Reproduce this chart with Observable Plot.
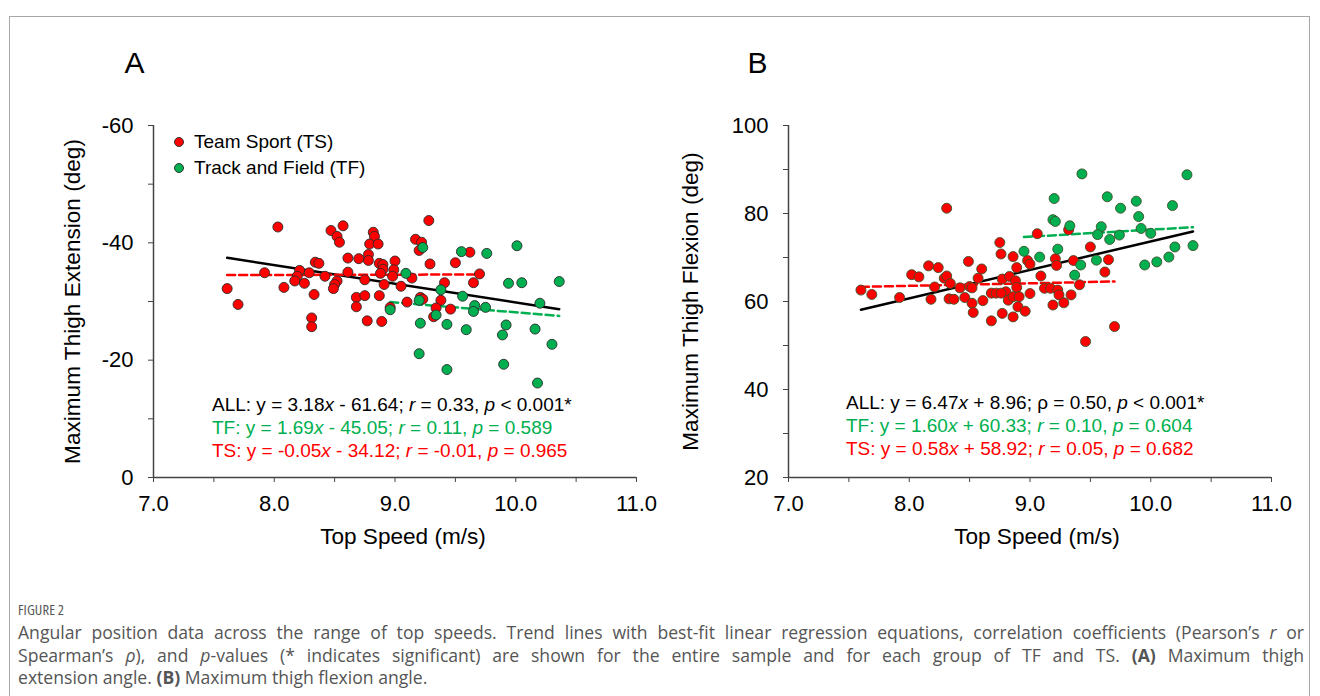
<!DOCTYPE html>
<html><head><meta charset="utf-8">
<script src="https://cdn.jsdelivr.net/npm/d3@7"></script>
<script src="https://cdn.jsdelivr.net/npm/@observablehq/plot@0.6"></script>
<style>
body{margin:0;background:#fff;}
#wrap{position:relative;width:1320px;height:696px;overflow:hidden;font-family:"Liberation Sans",Arial,sans-serif;color:#000;}
#frame{position:absolute;left:9px;top:16px;width:1301px;height:720px;border:1px solid #a6a6a6;box-sizing:border-box;}
.panel{position:absolute;top:0;}
.ann{position:absolute;font-size:19px;line-height:23px;white-space:nowrap;}
.leg{position:absolute;font-size:19px;}
.leg .row{display:flex;align-items:center;height:26px;}
.leg .dot{width:10px;height:10px;border-radius:50%;border:0.8px solid #333;margin-right:10px;box-sizing:border-box;}
#cap{position:absolute;left:18px;top:600px;width:1286px;font-family:"Open Sans",sans-serif;color:#555;}
#cap .fig{font-size:14.5px;line-height:20px;letter-spacing:0.1px;margin-bottom:1px;font-stretch:78%;}
#cap .ln{font-size:17.6px;line-height:22.5px;text-align:justify;text-align-last:justify;white-space:nowrap;}
#cap .ln.last{text-align-last:left;}
</style>
</head><body>
<div id="wrap">
  <div id="frame"></div>
</div>
<script>
// ---------- data ----------
const groups = ["Team Sport (TS)", "Track and Field (TF)"];
const groupColors = ["#FF0000", "#00B050"];

// Panel A: top speed (m/s) vs maximum thigh extension (deg)
const speedA_TS = [8.03,8.47,8.57,8.52,8.54,8.82,8.83,8.79,8.86,8.78,8.78,8.61,8.70,8.34,8.37,8.87,8.90,9.00,8.99,8.90,8.88,8.98,8.61,7.92,8.21,8.19,8.29,8.42,8.17,8.25,8.52,8.50,8.49,8.75,8.91,9.05,7.61,8.08,8.33,8.68,8.75,8.87,8.68,7.70,8.96,8.31,8.31,8.77,8.89,9.28,9.17,9.22,9.20,9.62,9.50,9.29,9.14,9.70,9.65,9.41,9.38,9.21,9.23,9.10,9.46,9.34,9.32];
const extA_TS = [-42.7,-42.1,-42.9,-41.1,-40.1,-41.8,-41.1,-39.8,-39.8,-38.0,-37.0,-37.4,-37.3,-36.7,-36.5,-36.5,-36.3,-36.9,-35.4,-35.5,-34.8,-34.3,-35.0,-34.9,-35.3,-34.3,-34.9,-34.3,-33.5,-33.1,-33.5,-32.9,-32.2,-33.7,-32.9,-32.6,-32.2,-32.4,-31.2,-30.7,-31.0,-31.0,-29.1,-29.5,-29.0,-27.2,-25.7,-26.7,-26.6,-43.8,-40.6,-40.1,-38.7,-38.4,-36.6,-36.4,-34.0,-34.7,-33.2,-33.2,-30.2,-30.7,-30.4,-29.9,-28.7,-28.9,-27.4];
const speedA_TF = [8.96,9.23,9.55,9.76,10.01,9.09,9.94,10.05,10.36,9.38,9.56,9.20,9.66,9.65,9.75,9.34,10.20,9.21,9.43,9.59,9.92,9.89,10.16,10.30,9.20,9.90,9.43,10.18];
const extA_TF = [-28.6,-39.2,-38.5,-38.2,-39.5,-34.8,-33.1,-33.2,-33.4,-32.0,-30.9,-30.2,-29.3,-28.3,-29.0,-27.7,-29.7,-26.3,-26.1,-25.2,-26.0,-24.3,-25.3,-22.7,-21.1,-19.3,-18.4,-16.1];

// Panel B: top speed (m/s) vs maximum thigh flexion (deg)
const speedB_TS = [8.31,7.60,7.69,7.92,8.02,8.08,8.16,8.24,8.29,8.31,8.34,8.21,8.18,8.33,8.37,8.42,8.49,8.50,8.52,8.57,8.60,8.46,8.52,8.53,8.61,8.68,8.68,8.72,8.75,8.76,8.77,8.80,8.76,8.82,8.83,8.86,8.89,8.88,8.89,8.86,8.91,8.90,8.77,8.86,8.96,9.00,8.98,9.00,9.06,9.09,9.12,9.32,9.50,9.65,9.21,9.22,9.36,9.62,9.41,9.17,9.23,9.24,9.34,9.19,9.28,9.70,9.46];
const flexB_TS = [81.2,62.6,61.6,60.9,66.1,65.6,68.1,67.7,65.3,65.8,64.1,63.3,60.5,60.6,60.5,63.1,69.1,63.4,63.1,65.3,67.4,60.9,59.6,57.5,60.2,55.6,61.9,61.9,73.4,70.8,65.1,62.2,61.9,60.3,65.7,70.2,67.7,64.7,63.2,61.1,61.1,58.8,57.3,56.5,57.8,61.8,69.3,68.5,75.4,65.8,63.0,76.3,72.4,69.5,69.7,68.2,69.3,66.7,63.8,63.0,62.6,61.5,61.5,59.2,59.7,54.3,50.9];
const speedB_TF = [8.95,9.08,9.43,10.30,9.20,9.64,9.88,9.75,10.18,9.90,9.19,9.21,9.33,9.59,9.92,10.00,9.56,9.74,9.66,9.23,9.55,9.42,10.20,10.35,9.95,10.05,10.15,9.37];
const flexB_TF = [71.4,70.1,89.0,88.8,83.4,83.8,82.8,81.2,81.8,79.3,78.6,78.2,77.2,77.0,76.6,75.5,75.2,75.1,74.1,71.9,69.4,68.3,72.4,72.7,68.3,69.0,70.1,66.0];

// Regression equations as printed on the figure
const eqNames = ["ALL", "TF", "TS"];
const eqColors = ["#000000", "#00B050", "#FF0000"];
const slopesA = [3.18, 1.69, -0.05];
const interceptsA = [-61.64, -45.05, -34.12];
const coefNamesA = ["r", "r", "r"];
const coefsA = ["0.33", "0.11", "-0.01"];
const pTextsA = ["< 0.001*", "= 0.589", "= 0.965"];
const slopesB = [6.47, 1.60, 0.58];
const interceptsB = [8.96, 60.33, 58.92];
const coefNamesB = ["ρ", "r", "r"];
const coefsB = ["0.50", "0.10", "0.05"];
const pTextsB = ["< 0.001*", "= 0.604", "= 0.682"];

// Axes
const xTicks = [7, 7.5, 8, 8.5, 9, 9.5, 10, 10.5, 11];
const xTickLabels = ["7.0", "", "8.0", "", "9.0", "", "10.0", "", "11.0"];
const yTicksA = [0, -10, -20, -30, -40, -50, -60];
const yTickLabelsA = ["0", "", "-20", "", "-40", "", "-60"];
const yTicksB = [20, 30, 40, 50, 60, 70, 80, 90, 100];
const yTickLabelsB = ["20", "", "40", "", "60", "", "80", "", "100"];
const xTitle = "Top Speed (m/s)";
const yTitleA = "Maximum Thigh Extension (deg)";
const yTitleB = "Maximum Thigh Flexion (deg)";

// ---------- helpers ----------
function rows(xs, ys, g) { return xs.map((x, i) => ({x, y: ys[i], g})); }
function fitRows(name, slope, intercept, xs) {
  const [x0, x1] = d3.extent(xs);
  return [{name, x: x0, y: slope * x0 + intercept}, {name, x: x1, y: slope * x1 + intercept}];
}

function panel(o) {
  const pts = [...rows(o.xTS, o.yTS, 0), ...rows(o.xTF, o.yTF, 1)];
  const allX = [...o.xTS, ...o.xTF];
  const fits = [
    fitRows("ALL", o.slopes[0], o.intercepts[0], allX),
    fitRows("TF", o.slopes[1], o.intercepts[1], o.xTF),
    fitRows("TS", o.slopes[2], o.intercepts[2], o.xTS)
  ];
  const fmtY = d => o.yLabels[o.yTicks.indexOf(d)] ?? "";
  const fmtX = d => xTickLabels[xTicks.indexOf(d)] ?? "";
  return Plot.plot({
    width: 660, height: 560,
    marginLeft: o.ml, marginRight: o.mr, marginTop: 125, marginBottom: 83,
    style: {fontFamily: "Liberation Sans, Arial, sans-serif", fontSize: "22px", color: "#000", background: "transparent", overflow: "visible"},
    x: {domain: [7, 11]},
    y: {domain: o.yDomain},
    marks: [
      Plot.axisX({ticks: xTicks, tickFormat: fmtX, tickSize: 5, tickPadding: 13, label: null, stroke: "#444", fill: "#000"}),
      Plot.axisY({ticks: o.yTicks, tickFormat: fmtY, tickSize: 5, tickPadding: 15, label: null, stroke: "#444", fill: "#000"}),
      Plot.ruleX([7], {stroke: "#444", strokeWidth: 1.5}),
      Plot.ruleY([o.yDomain[0]], {stroke: "#444", strokeWidth: 1.5}),
      Plot.line(fits[0], {x: "x", y: "y", stroke: eqColors[0], strokeWidth: 2.5}),
      Plot.line(fits[1], {x: "x", y: "y", stroke: eqColors[1], strokeWidth: 2.5, strokeDasharray: "8,4"}),
      Plot.line(fits[2], {x: "x", y: "y", stroke: eqColors[2], strokeWidth: 2.5, strokeDasharray: "8,4"}),
      Plot.dot(pts, {x: "x", y: "y", fill: d => groupColors[d.g], r: 5, stroke: o.dotStroke, strokeWidth: 0.9}),
      Plot.text([xTitle], {frameAnchor: "bottom", textAnchor: "middle", lineAnchor: "middle", dx: o.xTitleDx, dy: 59, fontSize: 22.6}),
      Plot.text([o.yTitle], {frameAnchor: "left", textAnchor: "middle", lineAnchor: "middle", rotate: -90, dx: o.yTitleDx, fontSize: 22.6}),
      Plot.text([o.letter], {frameAnchor: "top-left", textAnchor: "start", lineAnchor: "middle", dx: o.letterDx, dy: -62, fontSize: 30})
    ]
  });
}

const wrap = document.getElementById("wrap");

function place(svg, left) {
  const d = document.createElement("div");
  d.className = "panel";
  d.style.left = left + "px";
  d.appendChild(svg);
  wrap.appendChild(d);
}

place(panel({
  xTS: speedA_TS, yTS: extA_TS, xTF: speedA_TF, yTF: extA_TF,
  slopes: slopesA, intercepts: interceptsA,
  yDomain: [0, -60], yTicks: yTicksA, yLabels: yTickLabelsA,
  ml: 153, mr: 24, yTitle: yTitleA, yTitleDx: -81, xTitleDx: 8,
  letter: "A", letterDx: -29, dotStroke: "#2b2b2b"
}), 0);

place(panel({
  xTS: speedB_TS, yTS: flexB_TS, xTF: speedB_TF, yTF: flexB_TF,
  slopes: slopesB, intercepts: interceptsB,
  yDomain: [20, 100], yTicks: yTicksB, yLabels: yTickLabelsB,
  ml: 128, mr: 49, yTitle: yTitleB, yTitleDx: -98, xTitleDx: 7,
  letter: "B", letterDx: -41, dotStroke: "#3d4f2a"
}), 660);

// ---------- legend ----------
const leg = document.createElement("div");
leg.className = "leg";
leg.style.left = "174px"; leg.style.top = "129px";
groups.forEach((g, i) => {
  const r = document.createElement("div"); r.className = "row";
  const dot = document.createElement("span"); dot.className = "dot"; dot.style.background = groupColors[i];
  const t = document.createElement("span"); t.textContent = g;
  r.appendChild(dot); r.appendChild(t); leg.appendChild(r);
});
wrap.appendChild(leg);

// ---------- equations ----------
function esc(s) { return s.replace(/</g, "&lt;"); }
function eqHTML(name, slope, intercept, cn, cv, pt) {
  const s = slope.toFixed(2);
  const ic = (intercept < 0 ? " - " : " + ") + Math.abs(intercept).toFixed(2);
  const c = cn === "r" ? "<i>r</i>" : cn;
  return `${name}: y = ${s}<i>x</i>${ic}; ${c} = ${cv}, <i>p</i> ${esc(pt)}`;
}
function equations(left, top, slopes, intercepts, cns, cvs, pts) {
  eqNames.forEach((n, i) => {
    const d = document.createElement("div");
    d.className = "ann";
    d.style.left = left + "px";
    d.style.top = (top + i * 23) + "px";
    d.style.color = eqColors[i];
    d.innerHTML = eqHTML(n, slopes[i], intercepts[i], cns[i], cvs[i], pts[i]);
    wrap.appendChild(d);
  });
}
equations(212, 393, slopesA, interceptsA, coefNamesA, coefsA, pTextsA);
equations(846, 391, slopesB, interceptsB, coefNamesB, coefsB, pTextsB);

// ---------- caption ----------
const cap = document.createElement("div");
cap.id = "cap";
cap.innerHTML = `<div class="fig">FIGURE 2</div>
<div class="ln">Angular position data across the range of top speeds. Trend lines with best-fit linear regression equations, correlation coefficients (Pearson’s <i>r</i> or</div>
<div class="ln">Spearman’s <i>ρ</i>), and <i>p</i>-values (* indicates significant) are shown for the entire sample and for each group of TF and TS. <b>(A)</b> Maximum thigh</div>
<div class="ln last">extension angle. <b>(B)</b> Maximum thigh flexion angle.</div>`;
wrap.appendChild(cap);
</script>
</body></html>
